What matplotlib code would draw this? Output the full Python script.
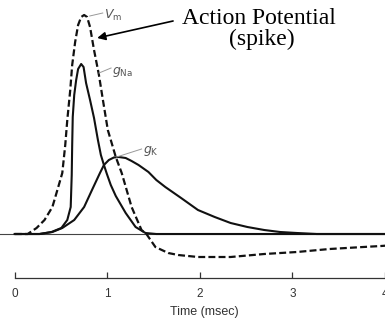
import matplotlib
matplotlib.use("Agg")
import matplotlib.pyplot as plt

plt.rcParams['lines.scale_dashes'] = False
plt.rcParams['mathtext.fontset'] = 'dejavusans'

# time in msec, amplitudes in arbitrary units (0 = resting level)
vm_t = [0, 0.139, 0.235, 0.321, 0.406, 0.460, 0.513, 0.545, 0.567, 0.599,
        0.620, 0.652, 0.684, 0.717, 0.749, 0.781, 0.813, 0.856, 0.909, 0.952,
        1.005, 1.037, 1.091, 1.155, 1.262, 1.369, 1.422, 1.519, 1.658, 1.765,
        1.979, 2.332, 2.695, 3.048, 3.401, 3.765, 3.957, 4.032]
vm_y = [0, 0, 6, 14, 27, 44, 61, 89, 114, 144,
        169, 192, 209, 217, 219, 217, 207, 184, 159, 134,
        104, 94, 77, 61, 27, 4, 0, -13, -19, -21,
        -23, -23, -20, -18, -15, -13, -12, -11.5]

gna_t = [0, 0.267, 0.396, 0.503, 0.567, 0.604, 0.615, 0.620, 0.626, 0.642,
         0.663, 0.684, 0.717, 0.743, 0.770, 0.813, 0.856, 0.898, 0.930, 0.963,
         0.995, 1.037, 1.091, 1.198, 1.305, 1.412, 1.529, 4.032]
gna_y = [0, 0, 2, 6, 14, 27, 59, 89, 117, 139,
         154, 165, 170, 167, 151, 134, 116, 94, 79, 69,
         60, 49, 38, 21, 7, 1, 0, 0]

gk_t = [0, 0.267, 0.406, 0.513, 0.642, 0.749, 0.834, 0.920, 0.963, 1.016,
        1.070, 1.123, 1.198, 1.262, 1.337, 1.444, 1.529, 1.626, 1.797, 1.979,
        2.160, 2.332, 2.513, 2.695, 2.866, 3.048, 3.262, 4.032]
gk_y = [0, 0, 2, 6, 14, 27, 44, 61, 69, 74,
        76.5, 77, 76, 73, 69, 62, 54, 47, 36, 24,
        17, 11, 7, 4, 2, 1, 0, 0]

time_ticks = [0, 1, 2, 3, 4]

fig = plt.figure(figsize=(3.85, 3.26), dpi=100)
ax = fig.add_axes([0, 0, 1, 1])
ax.set_xlim(-0.16, 3.96)
ax.set_ylim(-92, 234)

ink = '#111111'
# resting level
ax.axhline(0, color='#444444', lw=0.8, zorder=1)

ax.plot(gk_t, gk_y, color=ink, lw=1.5, solid_joinstyle='round')
ax.plot(gna_t, gna_y, color=ink, lw=1.5, solid_joinstyle='round')
ax.plot(vm_t, vm_y, color=ink, lw=1.6, dashes=(5, 2.3))

# curve labels with small leader lines
lab = '#555555'
ax.plot([0.81, 0.95], [218, 221], color='#999999', lw=0.7)
ax.text(0.96, 219, r'$V_{\mathrm{m}}$', color=lab, fontsize=9, va='center')
ax.plot([0.91, 1.04], [161, 166], color='#999999', lw=0.7)
ax.text(1.05, 162, r'$g_{\mathrm{Na}}$', color=lab, fontsize=9, va='center')
ax.plot([1.10, 1.37], [77, 85], color='#999999', lw=0.7)
ax.text(1.39, 83, r'$g_{\mathrm{K}}$', color=lab, fontsize=9, va='center')

# annotation
ax.annotate('', xy=(0.89, 196), xytext=(1.71, 213),
            arrowprops=dict(arrowstyle='-|>', color='black', lw=1.2,
                            mutation_scale=12, shrinkA=0, shrinkB=0))
ax.text(2.64, 210, 'Action Potential', family='Liberation Serif', fontsize=17,
        ha='center', va='baseline')
ax.text(2.67, 189, '(spike)', family='Liberation Serif', fontsize=17,
        ha='center', va='baseline')

# time axis
for s in ['top', 'left', 'right']:
    ax.spines[s].set_visible(False)
ax.spines['bottom'].set_position(('data', -44))
ax.spines['bottom'].set_bounds(0, 4.2)
ax.spines['bottom'].set_color('#333333')
ax.spines['bottom'].set_linewidth(0.9)
ax.set_xticks(time_ticks)
ax.set_xticklabels([str(t) for t in time_ticks], family='Liberation Sans',
                   fontsize=8.5, color='#333333')
ax.tick_params(axis='x', direction='in', length=4, width=0.9, pad=7,
               color='#333333')
ax.set_yticks([])
ax.text(2.05, -78, 'Time (msec)', family='Liberation Sans', fontsize=9,
        color='#333333', ha='center', va='center')

fig.savefig('out.png', dpi=100)
